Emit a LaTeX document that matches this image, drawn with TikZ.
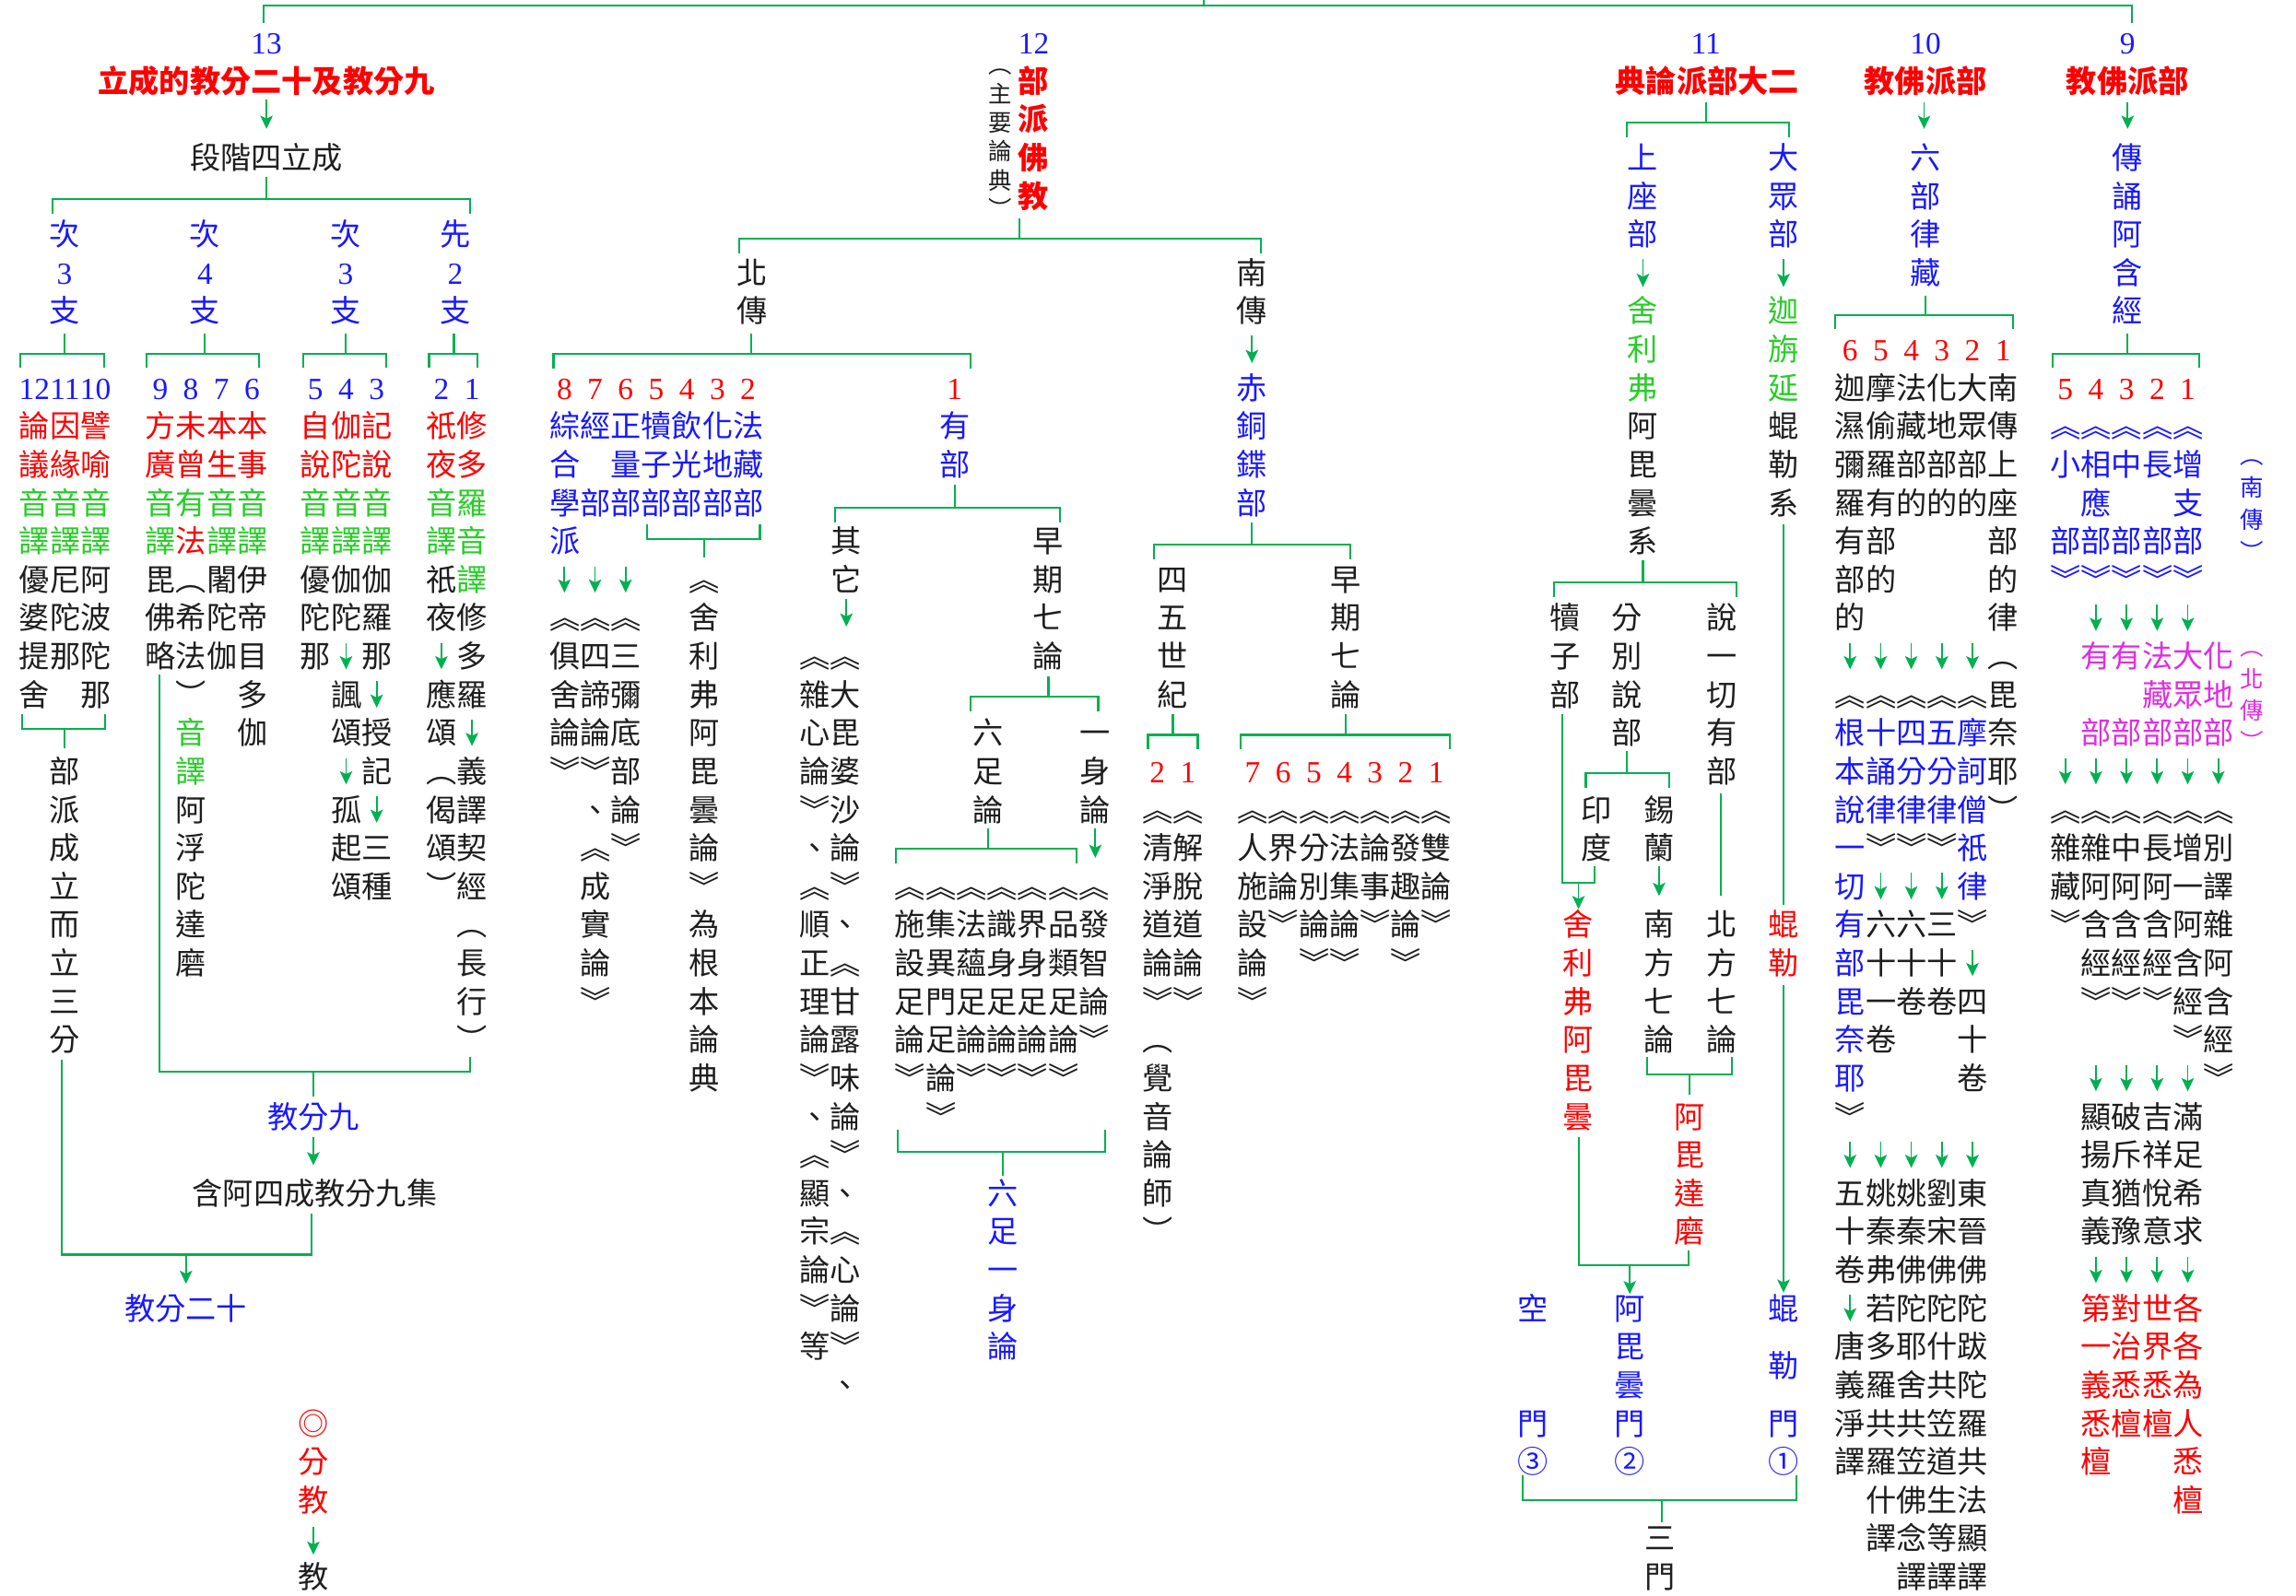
\documentclass[tikz,border=0pt]{standalone}
\usepackage{fontspec}
\setmainfont{Liberation Serif}
\newfontfamily\cjk{Noto Sans CJK TC}
\newfontfamily\numfam{Liberation Serif}
\usetikzlibrary{arrows.meta}
\definecolor{ink}{RGB}{30,30,30}
\definecolor{rd}{RGB}{255,0,0}
\definecolor{bl}{RGB}{25,25,255}
\definecolor{gt}{RGB}{40,205,40}
\definecolor{mg}{RGB}{225,45,225}
\definecolor{lg}{RGB}{0,176,80}
\newcommand\cjkf{\cjk\fontsize{20.9pt}{26.2pt}\selectfont}
\newcommand\numf{\numfam\fontsize{21pt}{26.2pt}\selectfont}
\newcommand\smf{\cjk\fontsize{16pt}{20pt}\selectfont}
\newcommand\cR[1]{\textcolor{rd}{#1}}
\newcommand\cB[1]{\textcolor{bl}{#1}}
\newcommand\cG[1]{\textcolor{gt}{#1}}
\newcommand\Num[1]{{\numf #1}}
\newcommand\Yr[1]{36.9+26.2*(#1)}
\tikzset{
 txt/.style={anchor=base west,inner sep=0pt,font=\cjkf,text=ink},
 vt/.style={anchor=base,inner sep=0pt,font=\cjkf,text=ink},
 num/.style={anchor=base,inner sep=0pt,font=\numf},
 ttl/.style={anchor=base,inner sep=0pt,font=\cjkf\bfseries,text=rd},
 conn/.style={draw=lg,line width=1.3pt},
 ar/.style={color=lg,line width=1.1pt,-{Stealth[length=9pt,width=8.5pt,inset=2pt]}},
}
\newcommand\blk[5][]{\foreach \s [count=\i from 0] in {#5}{\node[txt,#1] (#2-\i) at (#3,{\Yr{#4+\i}}) {\s};}}
\newcommand\vcol[5][]{\foreach \s [count=\i from 0] in {#5}{\node[vt,#1] (#2-\i) at (#3,{\Yr{#4+\i}}) {\s};}}
\newcommand\dg[5][]{\foreach \s [count=\i from 1] in {#5}{\node[num,#1] (#2-\i) at ({#3+20.9*(\i-0.5)},{\Yr{#4}}) {\s};}}
\newcommand\vsm[6][]{\foreach \s [count=\i from 0] in {#6}{\node[vt,font=\smf,#1] (#2-\i) at (#3,{#4+6.1+#5*\i}) {\s};}}
\newcommand\dac[3]{\draw[ar] ({#1+20.9*(#2-0.5)},{20+26.2*(#3)}) -- ++(0,18);}
\begin{document}
\begin{tikzpicture}[x=1pt,y=-1pt]
\fill[white] (0,0) rectangle (1568,1090);
\useasboundingbox (0,0) rectangle (1568,1090);
% top line
\draw[conn] (180,16) -- (180,4) -- (1456,4) -- (1456,16);
\draw[conn] (822,0) -- (822,4);

% ================= 13 =================
\node[num,text=bl] (n13) at (182,{\Yr{0}}) {13};
\node[ttl] (t13) at (182,{\Yr{1}}) {立成的教分二十及教分九};
\draw[ar] (182,68) -- (182,88);
\node[vt] (s13) at (182,{\Yr{3}}) {段階四立成};
\draw[conn] (182,121) -- (182,136);
\draw[conn] (36,146) -- (36,136) -- (321,136) -- (321,146);
\vcol[text=bl]{c1}{44}{5}{次,\Num{3},支}
\vcol[text=bl]{c2}{140}{5}{次,\Num{4},支}
\vcol[text=bl]{c3}{236}{5}{次,\Num{3},支}
\vcol[text=bl]{c4}{311}{5}{先,\Num{2},支}
\foreach \a/\b/\c in {44/14/71,140/100/177,236/207/264,310/293/326}{
  \draw[conn] (\a,228) -- (\a,242);
  \draw[conn] (\b,251) -- (\b,242) -- (\c,242) -- (\c,251);}
\dg[text=bl]{dA}{13}{9}{12,11,10}
\dg[text=bl]{dB}{99}{9}{9,8,7,6}
\dg[text=bl]{dC}{205}{9}{5,4,3}
\dg[text=bl]{dD}{291}{9}{2,1}
\blk{gA}{13}{10}{\cR{論因譬},\cR{議緣喻},\cG{音音音},\cG{譯譯譯},優尼阿,婆陀波,提那陀,舍　那}
\blk{gB}{99}{10}{\cR{方未本本},\cR{廣曾生事},\cG{音有音音},\cG{譯}\cR{法}\cG{譯譯},毘︵闍伊,佛希陀帝,略法伽目,　︶　多,　\cG{音}　伽,　\cG{譯},　阿,　浮,　陀,　達,　磨}
\blk{gC}{205}{10}{\cR{自伽記},\cR{說陀說},\cG{音音音},\cG{譯譯譯},優伽伽,陀陀羅,那　那,　諷,　頌授,　　記,　孤,　起三,　頌種}
\blk{gD}{291}{10}{\cR{祇修},\cR{夜多},\cG{音羅},\cG{譯音},祇\cG{譯},夜修,　多,應羅,頌,︵義,偈譯,頌契,︶經,　︵,　長,　行,　︶}
\dac{205}{2}{16}\dac{205}{3}{17}\dac{205}{2}{19}\dac{205}{3}{20}
\dac{291}{1}{16}\dac{291}{2}{18}
\draw[conn] (15,488) -- (15,498) -- (72,498) -- (72,488);
\draw[conn] (44,498) -- (44,511);
\vcol{pA}{44}{19}{部,派,成,立,而,立,三,分}
\draw[conn] (109,461) -- (109,732) -- (321,732) -- (321,722);
\draw[conn] (214,732) -- (214,749);
\node[vt,text=bl] (j9) at (214,{\Yr{28}}) {教分九};
\draw[ar] (214,777) -- (214,796);
\node[vt] (j9s) at (215,{\Yr{30}}) {含阿四成教分九集};
\draw[conn] (42,724) -- (42,857) -- (213,857) -- (213,829);
\draw[ar] (127,857) -- (127,877);
\node[vt,text=bl] (j20) at (127,{\Yr{33}}) {教分二十};
\vcol[text=rd]{bo}{214}{36}{◎,分,教}
\draw[ar] (214,1043) -- (214,1062);
\node[vt] (bj) at (214,{\Yr{40}}) {教};

% ================= 12 =================
\node[num,text=bl] (n12) at (706,{\Yr{0}}) {12};
\vcol[font=\cjkf\bfseries,text=rd]{t12}{706}{1}{部,派,佛,教}
\vsm{pz}{683}{44}{19.8}{︵,主,要,論,典,︶}
\draw[conn] (696,149) -- (696,163);
\draw[conn] (505,173) -- (505,163) -- (861,163) -- (861,173);
\vcol{nb}{514}{6}{北,傳}
\vcol{nn}{855}{6}{南,傳}
\draw[conn] (513,228) -- (513,242);
\draw[conn] (378,252) -- (378,242) -- (663,242) -- (663,252);
\dg[text=rd]{d12}{375}{9}{8,7,6,5,4,3,2}
\node[num,text=rd] (d12b) at (652,{\Yr{9}}) {1};
\blk[text=bl]{nbk}{375}{10}{綜經正犢飲化法,合　量子光地藏,學部部部部部部,派}
\draw[conn] (442,358) -- (442,368) -- (519,368) -- (519,358);
\draw[conn] (481,368) -- (481,381);
\foreach \c in {1,2,3}{\dac{375}{\c}{14}}
\vcol{sh}{481}{14}{︽,舍,利,弗,阿,毘,曇,論,︾,為,根,本,論,典}
\blk{nbl}{375}{15}{︽︽︽,俱四三,舍諦彌,論論底,︾︾部,　、論,　︽︾,　成,　實,　論,　︾}
\vcol[text=bl]{yb}{652}{10}{有,部}
\draw[conn] (652,331) -- (652,347);
\draw[conn] (570,357) -- (570,347) -- (724,347) -- (724,357);
\vcol{qt0}{578}{13}{其,它}
\draw[ar] (578,409) -- (578,428);
\vcol{zq}{716}{13}{早,期,七,論}
\blk{qt}{546}{16}{︽︽,雜大,心毘,論婆,︾沙,、論,︽︾,順、,正︽,理甘,論露,︾味,、論,︽︾,顯、,宗︽,論心,︾論,等︾,　、}
\draw[conn] (716,462) -- (716,476);
\draw[conn] (663,486) -- (663,476) -- (750,476) -- (750,486);
\vcol{lz}{675}{18}{六,足,論}
\vcol{ys}{748}{18}{一,身,論}
\draw[conn] (675,566) -- (675,580);
\draw[conn] (612,590) -- (612,580) -- (735,580) -- (735,590);
\draw[ar] (748,566) -- (748,586);
\blk{q7}{611}{22}{︽︽︽︽︽︽︽,施集法識界品發,設異蘊身身類智,足門足足足足論,論足論論論論︾,︾論︾︾︾︾,　︾}
\draw[conn] (613,772) -- (613,787) -- (755,787) -- (755,772);
\draw[conn] (685,787) -- (685,803);
\vcol[text=bl]{lzy}{685}{30}{六,足,一,身,論}
% south
\draw[ar] (855,229) -- (855,248);
\vcol[text=bl]{ct}{855}{9}{赤,銅,鍱,部}
\draw[conn] (855,357) -- (855,372);
\draw[conn] (788,382) -- (788,372) -- (922,372) -- (922,382);
\vcol{sw}{801}{14}{四,五,世,紀}
\vcol{zq2}{919}{14}{早,期,七,論}
\draw[conn] (801,488) -- (801,502);
\draw[conn] (784,512) -- (784,502) -- (818,502) -- (818,512);
\draw[conn] (919,488) -- (919,502);
\draw[conn] (847,512) -- (847,502) -- (990,502) -- (990,512);
\dg[text=rd]{ds2}{780}{19}{2,1}
\dg[text=rd]{ds7}{845}{19}{7,6,5,4,3,2,1}
\blk{s2}{780}{20}{︽︽,清解,淨脫,道道,論論,︾︾}
\vcol{s2b}{790.5}{26}{︵,覺,音,論,師,︶}
\blk{s7}{845}{20}{︽︽︽︽︽︽︽,人界分法論發雙,施論別集事趣論,設︾論論︾論︾,論　︾︾　︾,︾}

% ================= 11 =================
\node[num,text=bl] (n11) at (1165,{\Yr{0}}) {11};
\node[ttl] (t11) at (1166,{\Yr{1}}) {典論派部大二};
\draw[conn] (1165,70) -- (1165,84);
\draw[conn] (1111,94) -- (1111,84) -- (1222,84) -- (1222,94);
\vcol[text=bl]{sz}{1122}{3}{上,座,部}
\vcol[text=bl]{dz}{1218}{3}{大,眾,部}
\draw[ar] (1122,177) -- (1122,196);
\draw[ar] (1218,177) -- (1218,196);
\vcol[text=gt]{slf}{1122}{7}{舍,利,弗}
\vcol{apt}{1122}{10}{阿,毘,曇,系}
\vcol[text=gt]{jzy}{1218}{7}{迦,旃,延}
\vcol{klx}{1218}{10}{蜫,勒,系}
\draw[conn] (1122,383) -- (1122,398);
\draw[conn] (1061,408) -- (1061,398) -- (1186,398) -- (1186,408);
\vcol{dzb}{1069}{15}{犢,子,部}
\vcol{fbs}{1111}{15}{分,別,說,部}
\vcol{sqy}{1176}{15}{說,一,切,有,部}
\draw[conn] (1111,513) -- (1111,528);
\draw[conn] (1083,538) -- (1083,528) -- (1140,528) -- (1140,538);
\vcol{yd}{1090}{20}{印,度}
\vcol{xl}{1133}{20}{錫,蘭}
\draw[conn] (1067,488) -- (1067,603) -- (1089,603) -- (1089,592);
\draw[ar] (1078,603) -- (1078,621);
\draw[ar] (1133,592) -- (1133,612);
\draw[conn] (1175,542) -- (1175,612);
\vcol[text=rd]{slfa}{1078}{23}{舍,利,弗,阿,毘,曇}
\vcol{nf}{1133}{23}{南,方,七,論}
\vcol{bf}{1176}{23}{北,方,七,論}
\draw[conn] (1125,722) -- (1125,734) -- (1183,734) -- (1183,722);
\draw[conn] (1154,734) -- (1154,748);
\vcol[text=rd]{apdm}{1154}{28}{阿,毘,達,磨}
\draw[conn] (1078,777) -- (1078,864) -- (1153,864) -- (1153,854);
\draw[ar] (1113,864) -- (1113,884);
\vcol[text=bl]{atm}{1113}{33}{阿,毘,曇,門,②}
\node[vt,text=bl] (km1) at (1047,{\Yr{33}}) {空};
\node[vt,text=bl] (km2) at (1047,{\Yr{36}}) {門};
\node[vt,text=bl] (km3) at (1047,{\Yr{37}}) {③};
\draw[conn] (1218,358) -- (1218,618);
\vcol[text=rd]{klr}{1218}{23}{蜫,勒}
\draw[ar] (1218,673) -- (1218,883);
\node[vt,text=bl] (kl1) at (1218,{\Yr{33}}) {蜫};
\node[vt,text=bl] (kl2) at (1218,{\Yr{34.5}}) {勒};
\node[vt,text=bl] (kl3) at (1218,{\Yr{36}}) {門};
\node[vt,text=bl] (kl4) at (1218,{\Yr{37}}) {①};
\draw[conn] (1040,1008) -- (1040,1025) -- (1227,1025) -- (1227,1008);
\draw[conn] (1135,1025) -- (1135,1040);
\vcol{sm}{1134}{39}{三,門}

% ================= 10 =================
\node[num,text=bl] (n10) at (1315,{\Yr{0}}) {10};
\node[ttl] (t10) at (1315,{\Yr{1}}) {教佛派部};
\draw[ar] (1314,70) -- (1314,88);
\vcol[text=bl]{lb}{1315}{3}{六,部,律,藏}
\draw[conn] (1315,202) -- (1315,215);
\draw[conn] (1253,225) -- (1253,215) -- (1375,215) -- (1375,225);
\dg[text=rd]{d10}{1253}{8}{6,5,4,3,2,1}
\blk{v10}{1253}{9}{迦摩法化大南,濕偷藏地眾傳,彌羅部部部上,羅有的的的座,有部　　　部,部的　　　的,的　　　　律,　　　　　︵,︽︽︽︽︽毘,\cB{根十四五摩}奈,\cB{本誦分分訶}耶,\cB{說律律律僧}︶,\cB{一}︾︾︾\cB{祇},\cB{切}　　　\cB{律},\cB{有}六六三︾,\cB{部}十十十,\cB{毘}一卷卷四,\cB{奈}卷　　十,\cB{耶}　　　卷,︾,　,五姚姚劉東,十秦秦宋晉,卷弗佛佛佛,　若陀陀陀,唐多耶什跋,義羅舍共陀,淨共共笠羅,譯羅笠道共,　什佛生法,　譯念等顯,　　譯譯譯}
\foreach \c in {1,...,5}{\dac{1253}{\c}{16}\dac{1253}{\c}{29}}
\foreach \c in {2,3,4}{\dac{1253}{\c}{22}}
\dac{1253}{5}{24}
\dac{1253}{1}{33}

% ================= 9 =================
\node[num,text=bl] (n9) at (1453,{\Yr{0}}) {9};
\node[ttl] (t9) at (1453,{\Yr{1}}) {教佛派部};
\draw[ar] (1453,70) -- (1453,88);
\vcol[text=bl]{cs}{1453}{3}{傳,誦,阿,含,經}
\draw[conn] (1453,228) -- (1453,242);
\draw[conn] (1402,251) -- (1402,242) -- (1502,242) -- (1502,251);
\dg[text=rd]{d9}{1400}{9}{5,4,3,2,1}
\blk[text=bl]{v9a}{1400}{10}{︽︽︽︽︽,小相中長增,　應　　支,部部部部部,︾︾︾︾︾}
\blk[text=mg]{v9b}{1400}{16}{　有有法大化,　　　藏眾地,　部部部部部}
\blk{v9c}{1400}{20}{︽︽︽︽︽︽,雜雜中長增別,藏阿阿阿一譯,︾含含含阿雜,　經經經含阿,　︾︾︾經含,　　　　︾經,　　　　　︾,　顯破吉滿,　揚斥祥足,　真猶悅希,　義豫意求}
\blk[text=rd]{v9d}{1400}{33}{　第對世各,　一治界各,　義悉悉為,　悉檀檀人,　檀　　悉,　　　　檀}
\foreach \c in {2,...,5}{\dac{1400}{\c}{15}\dac{1400}{\c}{27}\dac{1400}{\c}{32}}
\foreach \c in {1,...,6}{\dac{1400}{\c}{19}}
\vsm[text=bl]{nc}{1538}{311}{22}{︵,南,傳,︶}
\vsm[text=mg]{bc}{1538}{442}{21.5}{︵,北,傳,︶}
\end{tikzpicture}
\end{document}
